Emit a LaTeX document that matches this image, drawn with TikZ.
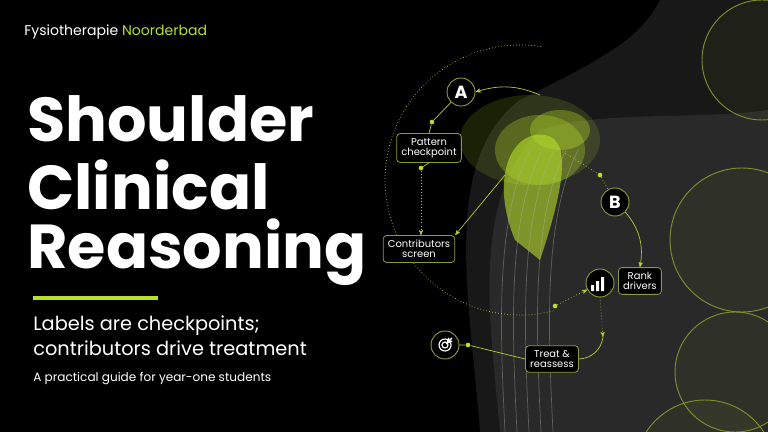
\documentclass[tikz,border=0pt]{standalone}
\usepackage{fontspec}
\setmainfont{Poppins}
\usepackage{xcolor}
\usetikzlibrary{arrows,positioning}
\definecolor{lime}{HTML}{B8E02A}
\definecolor{dimgreen}{HTML}{7C8F2C}
\definecolor{boxline}{HTML}{8A9A3A}
\newcommand{\pxfont}[1]{\fontsize{#1}{#1}\selectfont}

\begin{document}
\begin{tikzpicture}[x=0.03cm,y=-0.03cm,>=stealth',semithick]
  \tikzstyle{every node}=[text=white]
  \tikzstyle{stepbox}=[draw=boxline,fill=black,rounded corners=3pt,align=center,
    font=\pxfont{8.5},inner sep=4pt,line width=0.7pt]
  \tikzstyle{ring}=[circle,draw=boxline,fill=black,minimum size=0.84cm,inner sep=0pt,line width=0.8pt]
  \tikzstyle{link}=[draw=lime!80!gray,line width=0.6pt]
  \tikzstyle{dotlink}=[link,dotted]
  \tikzstyle{pin}=[circle,fill=lime,inner sep=1.4pt]
  \tikzstyle{headline}=[anchor=west,font=\bfseries\pxfont{53},inner sep=0pt]

  \fill[black] (0,0) rectangle (768,432);
  \useasboundingbox (0,0) rectangle (768,432);

  % shoulder figure
  \fill[gray!40,opacity=0.12] (480,432) .. controls (470,300) and (440,160) .. (520,100)
    .. controls (600,60) and (640,40) .. (660,0) -- (768,0) -- (768,432) -- cycle;
  \fill[gray!50,opacity=0.1] (500,432) .. controls (490,320) and (470,200) .. (540,130)
    .. controls (600,110) and (700,120) .. (768,110) -- (768,432) -- cycle;
  \fill[lime,opacity=0.15] (530,140) ellipse (70 and 45);
  \fill[lime,opacity=0.3] (540,150) ellipse (45 and 35);
  \fill[lime,opacity=0.6] (515,240) .. controls (490,180) and (510,130) .. (545,135)
    .. controls (575,140) and (560,200) .. (540,260) -- cycle;
  \fill[lime,opacity=0.35] (560,130) ellipse (30 and 20);
  \foreach \dx in {0,12,24,36,48}
    \draw[gray!60,opacity=0.4] (505+\dx,432) .. controls (500+\dx,330) and (495+\dx,220) .. (530+\dx,150);

  % background rings
  \foreach \cx/\cy/\r in {762/60/60,742/240/72,735/372/60,705/470/70}
    \draw[dimgreen,fill=dimgreen,fill opacity=0.08,line width=0.8pt] (\cx,\cy) circle (\r);

  % header and title
  \node[anchor=west,font=\pxfont{12}] (brand) at (20,32)
    {Fysiotherapie \textcolor{lime}{Noorderbad}};
  \node[headline] (title1) at (27,119) {Shoulder};
  \node[headline,text depth=0pt] (title2) at (27,185) {Clinical};
  \node[headline] (title3) at (27,252) {Reasoning};
  \fill[lime] (33,296) rectangle (158,300);
  \node[anchor=west,font=\pxfont{16.5},inner sep=0pt] (sub1) at (33,326) {Labels are checkpoints;};
  \node[anchor=west,font=\pxfont{16.5},inner sep=0pt] (sub2) at (33,348) {contributors drive treatment};
  \node[anchor=west,font=\pxfont{10.3},inner sep=0pt] (guide) at (33,379) {A practical guide for year-one students};

  % reasoning loop
  \draw[dotlink] (520,180) ++(279:135) arc[start angle=279,end angle=75,radius=135];
  \node[ring,font=\bfseries\pxfont{15}] (A) at (461,92) {A};
  \node[ring,font=\bfseries\pxfont{15}] (B) at (615,202) {B};
  \node[stepbox] (pattern) at (429,148) {Pattern\\checkpoint};
  \node[stepbox] (contrib) at (419,249) {Contributors\\screen};
  \node[ring] (bars) at (600,283) {};
  \fill[white] (591,285) rectangle (594,291) (596,281) rectangle (599,291) (601,277) rectangle (604,291);
  \node[stepbox,anchor=west] (rank) at (618,281) {Rank\\drivers};
  \node[ring] (target) at (445,345) {};
  \draw[white,line width=1pt] (target) circle (6) (target) circle (3);
  \draw[white,line width=1pt,->] (452,338) -- (446,344);
  \node[stepbox] (treat) at (552,359) {Treat \&\\reassess};

  \coordinate (hot1) at (540,95);
  \coordinate (hot2) at (505,175);
  \node[pin] (dotA) at (432,122) {};
  \node[pin] (dotP) at (421,168) {};
  \node[pin] (dotB) at (600,175) {};
  \node[pin] (dotR) at (555,306) {};
  \node[pin] (dotT) at (468,345) {};

  \draw[link,->] (hot1) to[bend right=20] (A.east);
  \draw[link] (A) -- (dotA) -- (pattern.north);
  \draw[link] (pattern.south) -- (dotP);
  \draw[dotlink,->] (dotP) -- (contrib.north -| dotP);
  \draw[link,->] (hot2) -- (contrib.north east);
  \draw[dotlink] (560,150) -- (dotB) -- (B);
  \draw[link,->] (B) to[bend left=25] (rank.north);
  \draw[dotlink,->] (dotR) -- (bars);
  \draw[dotlink,->] (bars.south) -- (603,337);
  \draw[link] (603,337) to[bend left=40] (treat.east);
  \draw[link] (treat.west) -- (dotT) -- (target);
\end{tikzpicture}
\end{document}
